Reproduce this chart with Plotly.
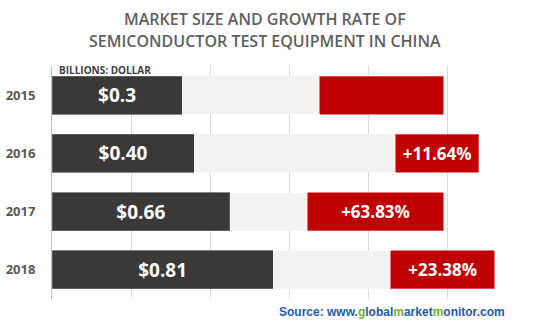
import plotly.graph_objects as go

years = ["2015", "2016", "2017", "2018"]
market_labels = ["$0.3", "$0.40", "$0.66", "$0.81"]
growth_labels = ["", "+11.64%", "+63.83%", "+23.38%"]
# segment lengths (axis units, gridline step = 1)
dark_len = [1.65, 1.80, 2.25, 2.80]
light_len = [1.74, 2.55, 0.99, 1.49]
red_len = [1.56, 1.05, 1.71, 1.31]

W, H = 540, 326
L, R, T, B = 52, 14, 66, 27
PW, PH = W - L - R, H - T - B

def px(x):
    return (x - L) / PW

def py(y):
    return (H - B - y) / PH

FONT = "Open Sans"
fig = go.Figure()
common = dict(orientation="h", y=years, width=0.65, textposition="inside",
              insidetextanchor="middle", cliponaxis=False)
fig.add_trace(go.Bar(x=dark_len, text=market_labels,
                     marker=dict(color="#3B3838", line=dict(color="#6a6868", width=0.8)),
                     textfont=dict(color="white", size=19, family=FONT, weight="bold"),
                     **common))
fig.add_trace(go.Bar(x=light_len, text=["", "", "", ""],
                     marker=dict(color="#F2F2F2", line=dict(color="#F2F2F2", width=0)),
                     **common))
fig.add_trace(go.Bar(x=red_len, text=growth_labels,
                     marker=dict(color="#C00000", line=dict(color="#e06060", width=0.8)),
                     textfont=dict(color="white", size=17, family=FONT, weight="bold"),
                     **common))

fig.update_layout(
    width=W, height=H, barmode="stack", showlegend=False,
    margin=dict(l=L, r=R, t=T, b=B, pad=0, autoexpand=False),
    paper_bgcolor="white", plot_bgcolor="white",
    font=dict(family=FONT),
    xaxis=dict(range=[0, 6], dtick=1, showgrid=True, gridcolor="#D9D9D9", gridwidth=1,
               showticklabels=False, zeroline=False, showline=False, fixedrange=True,
               automargin=False),
    yaxis=dict(type="category", autorange="reversed", showgrid=False, showline=True,
               linecolor="#BFBFBF", linewidth=1, ticks="", ticklabelstandoff=13,
               automargin=False,
               tickfont=dict(size=13, color="#595959", family=FONT, weight="bold")),
)

anns = [
    dict(text="MARKET SIZE AND GROWTH RATE OF", x=px(265), y=py(19), size=16),
    dict(text="SEMICONDUCTOR TEST EQUIPMENT IN CHINA", x=px(265), y=py(41), size=16),
]
for a in anns:
    fig.add_annotation(text=a["text"], x=a["x"], y=a["y"], xref="paper", yref="paper",
                       xanchor="center", yanchor="middle", showarrow=False,
                       font=dict(size=a["size"], color="#5f5f5f", family=FONT, weight=600))

fig.add_annotation(text="BILLIONS: DOLLAR", x=px(57), y=py(70), xref="paper", yref="paper",
                   xanchor="left", yanchor="middle", showarrow=False,
                   font=dict(size=10, color="#404040", family=FONT, weight="bold"))

blue, green = "#1F5BA8", "#72B52B"
src = (f"<span style='color:{blue}'>Source: www.</span>"
       f"<span style='color:{green}'>g</span>"
       f"<span style='color:{blue}'>lobal</span>"
       f"<span style='color:{green}'>m</span>"
       f"<span style='color:{blue}'>arket</span>"
       f"<span style='color:{green}'>m</span>"
       f"<span style='color:{blue}'>onitor.com</span>")
fig.add_annotation(text=src, x=px(507), y=py(312), xref="paper", yref="paper",
                   xanchor="right", yanchor="middle", showarrow=False,
                   font=dict(size=12, family="Liberation Sans", weight="bold"))

fig.write_html("out.html")
